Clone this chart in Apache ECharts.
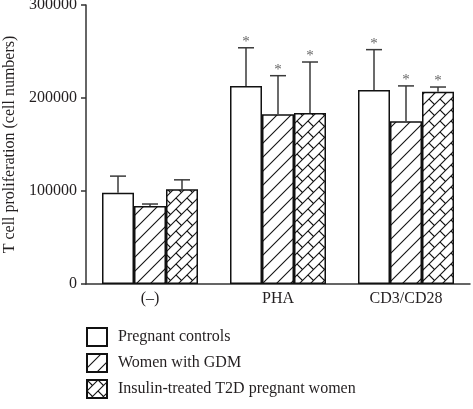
<!DOCTYPE html>
<html>
<head>
<meta charset="utf-8">
<script src="https://cdn.jsdelivr.net/npm/echarts@6/dist/echarts.min.js"></script>
<style>
html,body{margin:0;padding:0;background:#fff;}
#c{width:473px;height:409px;}
</style>
</head>
<body>
<div id="c"></div>
<script>
const categories = ['(\u2013)', 'PHA', 'CD3/CD28'];
const seriesNames = ['Pregnant controls', 'Women with GDM', 'Insulin-treated T2D pregnant women'];
const controlsValues = [98000, 213000, 208500];
const gdmValues = [84000, 182500, 175000];
const t2dValues = [102000, 184000, 206800];
const controlsErrTop = [116000, 254000, 252000];
const gdmErrTop = [86000, 224000, 213000];
const t2dErrTop = [112000, 238700, 211800];
const controlsSig = [false, true, true];
const gdmSig = [false, true, true];
const t2dSig = [false, true, true];
const yTicks = [0, 100000, 200000, 300000];

const FONT = '"Liberation Serif", "DejaVu Serif", serif';
const TEXT = '#231f20';

function hatchPattern() {
  const s = 14;
  const c = document.createElement('canvas');
  c.width = s; c.height = s;
  const g = c.getContext('2d');
  g.fillStyle = '#fff'; g.fillRect(0, 0, s, s);
  g.strokeStyle = '#111'; g.lineWidth = 1.1;
  for (let k = -1; k <= 1; k++) {
    g.beginPath();
    g.moveTo(-2 + k * s, s + 2);
    g.lineTo(s + 2 + k * s, -2);
    g.stroke();
  }
  return c;
}

function brickPattern() {
  const s = 11;
  const h = s / Math.SQRT2;
  const c = document.createElement('canvas');
  c.width = s; c.height = s;
  const g = c.getContext('2d');
  g.fillStyle = '#fff'; g.fillRect(0, 0, s, s);
  g.strokeStyle = '#111'; g.lineWidth = 1.1;
  g.save();
  g.rotate(-Math.PI / 4);
  for (let k = -6; k <= 6; k++) {
    g.beginPath();
    g.moveTo(-60, k * h);
    g.lineTo(60, k * h);
    g.stroke();
    const off = (Math.abs(k) % 2 === 1) ? h : 0;
    for (let j = -8; j <= 8; j++) {
      const x = j * 2 * h + off;
      g.beginPath();
      g.moveTo(x, k * h);
      g.lineTo(x, (k + 1) * h);
      g.stroke();
    }
  }
  g.restore();
  return c;
}

const fills = ['#ffffff', { image: hatchPattern(), repeat: 'repeat' }, { image: brickPattern(), repeat: 'repeat' }];
const valuesList = [controlsValues, gdmValues, t2dValues];
const errList = [controlsErrTop, gdmErrTop, t2dErrTop];
const sigList = [controlsSig, gdmSig, t2dSig];
const BAR_W = 32;

const series = [];
valuesList.forEach((vals, i) => {
  series.push({
    name: seriesNames[i],
    type: 'bar',
    data: vals,
    barWidth: BAR_W,
    barGap: '0%',
    itemStyle: { color: fills[i], borderColor: '#111', borderWidth: 1.5 },
    emphasis: { disabled: true },
    z: 2
  });
});
valuesList.forEach((vals, i) => {
  series.push({
    type: 'custom',
    name: 'err' + i,
    data: vals.map((v, k) => [k, v, errList[i][k], sigList[i][k] ? 1 : 0]),
    z: 3,
    silent: true,
    renderItem: function (params, api) {
      const k = api.value(0);
      const base = api.coord([k, api.value(1)]);
      const top = api.coord([k, api.value(2)]);
      const x = base[0] + (i - 1) * BAR_W;
      const children = [
        { type: 'line', shape: { x1: x, y1: base[1], x2: x, y2: top[1] }, style: { stroke: '#3a3a3a', lineWidth: 1.5 } },
        { type: 'line', shape: { x1: x - 8, y1: top[1], x2: x + 8, y2: top[1] }, style: { stroke: '#3a3a3a', lineWidth: 1.5 } }
      ];
      if (api.value(3)) {
        children.push({ type: 'text', x: x, y: top[1] + 2, style: { text: '*', font: '15px ' + FONT, fill: '#666', align: 'center', verticalAlign: 'bottom' } });
      }
      return { type: 'group', children: children };
    }
  });
});

const chart = echarts.init(document.getElementById('c'), null, { renderer: 'canvas' });
chart.setOption({
  animation: false,
  backgroundColor: '#fff',
  grid: { left: 86, right: 3, top: 5, bottom: 125, containLabel: false, outerBoundsMode: 'none' },
  legend: {
    data: seriesNames,
    orient: 'vertical',
    left: 86, top: 327,
    height: 82,
    icon: 'rect',
    itemWidth: 20, itemHeight: 18,
    itemGap: 6,
    padding: 0,
    selectedMode: false,
    textStyle: { fontFamily: FONT, fontSize: 16, lineHeight: 18, color: TEXT, padding: [0, 0, 0, 6] }
  },
  xAxis: {
    type: 'category',
    data: categories,
    axisLine: { lineStyle: { color: '#333', width: 1.5 } },
    axisTick: { alignWithLabel: true, length: 5, lineStyle: { color: '#333', width: 1.5 } },
    axisLabel: { fontFamily: FONT, fontSize: 16, color: TEXT, margin: 7 },
    splitLine: { show: false }
  },
  yAxis: {
    type: 'value',
    min: yTicks[0], max: yTicks[yTicks.length - 1], interval: yTicks[1] - yTicks[0],
    name: 'T cell proliferation (cell numbers)',
    nameLocation: 'middle',
    nameGap: 63,
    nameTextStyle: { fontFamily: FONT, fontSize: 16, color: TEXT },
    axisLine: { show: true, lineStyle: { color: '#333', width: 1.5 } },
    axisTick: { show: true, length: 5, lineStyle: { color: '#333', width: 1.5 } },
    axisLabel: { fontFamily: FONT, fontSize: 16, color: TEXT, margin: 9, formatter: v => String(v) },
    splitLine: { show: false }
  },
  series: series
});
</script>
</body>
</html>
